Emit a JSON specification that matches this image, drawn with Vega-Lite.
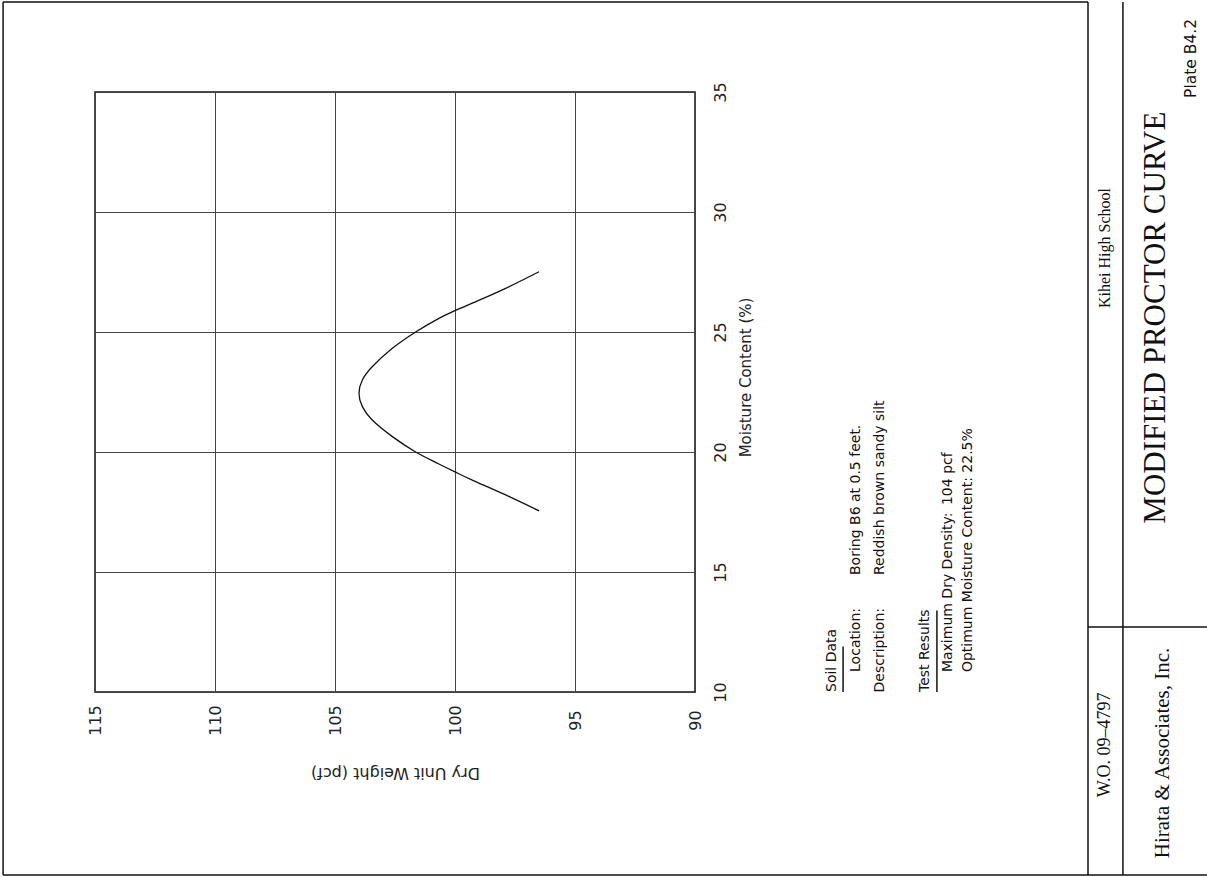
{
  "$schema": "https://vega.github.io/schema/vega-lite/v6.json",
  "width": 600,
  "height": 600,
  "autosize": {"type": "none"},
  "padding": {"left": 95, "top": 92, "right": 512, "bottom": 185},
  "background": "white",
  "config": {"view": {"stroke": "#111", "strokeWidth": 1.5}, "font": "DejaVu Sans"},
  "datasets": {
    "curve": [
      {"weight": 96.5, "moisture": 17.55},
      {"weight": 97.89, "moisture": 18.21},
      {"weight": 99.28, "moisture": 18.83},
      {"weight": 100.0, "moisture": 19.17},
      {"weight": 100.67, "moisture": 19.5},
      {"weight": 101.64, "moisture": 20.0},
      {"weight": 102.61, "moisture": 20.64},
      {"weight": 103.45, "moisture": 21.33},
      {"weight": 103.86, "moisture": 21.89},
      {"weight": 104.0, "moisture": 22.45},
      {"weight": 103.86, "moisture": 23.0},
      {"weight": 103.45, "moisture": 23.55},
      {"weight": 102.61, "moisture": 24.32},
      {"weight": 101.64, "moisture": 25.0},
      {"weight": 100.67, "moisture": 25.57},
      {"weight": 100.0, "moisture": 25.89},
      {"weight": 99.28, "moisture": 26.2},
      {"weight": 97.89, "moisture": 26.82},
      {"weight": 96.5, "moisture": 27.51}
    ],
    "frame": [
      {"w1": 118.83, "w2": 118.83, "m1": 38.75, "m2": 2.375},
      {"w1": 118.83, "w2": 68.67, "m1": 2.375, "m2": 2.375},
      {"w1": 118.83, "w2": 73.625, "m1": 38.75, "m2": 38.75},
      {"w1": 73.625, "w2": 73.625, "m1": 38.75, "m2": 2.375},
      {"w1": 72.17, "w2": 72.17, "m1": 38.75, "m2": 2.375},
      {"w1": 73.625, "w2": 68.67, "m1": 12.71, "m2": 12.71},
      {"w1": 83.83, "w2": 83.83, "m1": 10.0, "m2": 11.9},
      {"w1": 79.92, "w2": 79.92, "m1": 10.0, "m2": 13.4}
    ],
    "notesLeft": [
      {"w": 84.29, "m": 10.0, "label": "Soil Data"},
      {"w": 83.29, "m": 14.875, "label": "Boring B6 at 0.5 feet."},
      {"w": 82.29, "m": 14.875, "label": "Reddish brown sandy silt"},
      {"w": 80.42, "m": 10.0, "label": "Test Results"},
      {"w": 79.46, "m": 10.83, "label": "Maximum Dry Density:"},
      {"w": 79.46, "m": 17.79, "label": "104 pcf"},
      {"w": 78.625, "m": 10.83, "label": "Optimum Moisture Content: 22.5%"}
    ],
    "notesRight": [
      {"w": 83.29, "m": 13.5, "label": "Location:"},
      {"w": 82.29, "m": 13.5, "label": "Description:"}
    ],
    "blockSmall": [
      {"w": 72.92, "m": 28.5, "label": "Kihei High School"}
    ],
    "blockMid": [
      {"w": 72.92, "m": 7.8, "label": "W.O.  09–4797"}
    ],
    "blockFirm": [
      {"w": 70.5, "m": 7.46, "label": "Hirata & Associates, Inc."}
    ],
    "blockTitle": [
      {"w": 70.79, "m": 25.6, "label": "MODIFIED PROCTOR CURVE"}
    ],
    "plate": [
      {"w": 69.33, "m": 36.4, "label": "Plate B4.2"}
    ]
  },
  "layer": [
    {
      "data": {"name": "curve"},
      "mark": {"type": "line", "color": "#111", "strokeWidth": 1.3, "interpolate": "cardinal"},
      "encoding": {
        "x": {
          "field": "weight", "type": "quantitative", "title": "Dry Unit Weight (pcf)",
          "scale": {"domain": [90, 115], "reverse": true, "nice": false, "zero": false},
          "axis": {
            "orient": "bottom", "values": [90, 95, 100, 105, 110, 115],
            "grid": true, "gridColor": "#444", "gridWidth": 1, "domain": false,
            "ticks": false, "tickSize": 0,
            "labelAngle": -90, "labelAlign": "center", "labelBaseline": "middle",
            "labelPadding": 28, "labelFontSize": 16, "labelFont": "DejaVu Sans", "labelColor": "#222",
            "labelFlush": false, "labelOverlap": false,
            "titleAngle": 180, "titleFontSize": 16, "titleFontWeight": "normal", "titleFont": "DejaVu Sans",
            "titleColor": "#222", "titleX": 300, "titleY": 80, "titleAlign": "center", "titleBaseline": "middle"
          }
        },
        "y": {
          "field": "moisture", "type": "quantitative", "title": "Moisture Content (%)",
          "scale": {"domain": [10, 35], "nice": false, "zero": false},
          "axis": {
            "orient": "right", "values": [10, 15, 20, 25, 30, 35],
            "grid": true, "gridColor": "#444", "gridWidth": 1, "domain": false,
            "ticks": false, "tickSize": 0,
            "labelAngle": -90, "labelAlign": "center", "labelBaseline": "middle",
            "labelPadding": 25, "labelFontSize": 16, "labelFont": "DejaVu Sans", "labelColor": "#222",
            "labelFlush": false, "labelOverlap": false,
            "titleAngle": 270, "titleFontSize": 15, "titleFontWeight": "normal", "titleFont": "DejaVu Sans",
            "titleColor": "#222", "titleX": 50, "titleY": 285, "titleAlign": "center", "titleBaseline": "middle"
          }
        },
        "order": {"field": "moisture", "type": "quantitative"}
      }
    },
    {
      "data": {"name": "frame"},
      "mark": {"type": "rule", "color": "#111", "strokeWidth": 1.5},
      "encoding": {
        "x": {"field": "w1", "type": "quantitative", "title": "Dry Unit Weight (pcf)", "scale": {"domain": [90, 115], "reverse": true, "nice": false, "zero": false}},
        "x2": {"field": "w2"},
        "y": {"field": "m1", "type": "quantitative", "title": "Moisture Content (%)", "scale": {"domain": [10, 35], "nice": false, "zero": false}},
        "y2": {"field": "m2"}
      }
    },
    {
      "data": {"name": "notesLeft"},
      "mark": {"type": "text", "angle": -90, "align": "left", "baseline": "middle", "font": "DejaVu Sans", "fontSize": 14, "color": "#111"},
      "encoding": {
        "x": {"field": "w", "type": "quantitative", "title": "Dry Unit Weight (pcf)", "scale": {"domain": [90, 115], "reverse": true, "nice": false, "zero": false}},
        "y": {"field": "m", "type": "quantitative", "title": "Moisture Content (%)", "scale": {"domain": [10, 35], "nice": false, "zero": false}},
        "text": {"field": "label"}
      }
    },
    {
      "data": {"name": "notesRight"},
      "mark": {"type": "text", "angle": -90, "align": "right", "baseline": "middle", "font": "DejaVu Sans", "fontSize": 14, "color": "#111"},
      "encoding": {
        "x": {"field": "w", "type": "quantitative", "title": "Dry Unit Weight (pcf)", "scale": {"domain": [90, 115], "reverse": true, "nice": false, "zero": false}},
        "y": {"field": "m", "type": "quantitative", "title": "Moisture Content (%)", "scale": {"domain": [10, 35], "nice": false, "zero": false}},
        "text": {"field": "label"}
      }
    },
    {
      "data": {"name": "blockSmall"},
      "mark": {"type": "text", "angle": -90, "align": "center", "baseline": "middle", "font": "Liberation Serif", "fontSize": 16, "color": "#111"},
      "encoding": {
        "x": {"field": "w", "type": "quantitative", "title": "Dry Unit Weight (pcf)", "scale": {"domain": [90, 115], "reverse": true, "nice": false, "zero": false}},
        "y": {"field": "m", "type": "quantitative", "title": "Moisture Content (%)", "scale": {"domain": [10, 35], "nice": false, "zero": false}},
        "text": {"field": "label"}
      }
    },
    {
      "data": {"name": "blockMid"},
      "mark": {"type": "text", "angle": -90, "align": "center", "baseline": "middle", "font": "Liberation Serif", "fontSize": 18, "color": "#111"},
      "encoding": {
        "x": {"field": "w", "type": "quantitative", "title": "Dry Unit Weight (pcf)", "scale": {"domain": [90, 115], "reverse": true, "nice": false, "zero": false}},
        "y": {"field": "m", "type": "quantitative", "title": "Moisture Content (%)", "scale": {"domain": [10, 35], "nice": false, "zero": false}},
        "text": {"field": "label"}
      }
    },
    {
      "data": {"name": "blockFirm"},
      "mark": {"type": "text", "angle": -90, "align": "center", "baseline": "middle", "font": "Liberation Serif", "fontSize": 21, "color": "#111"},
      "encoding": {
        "x": {"field": "w", "type": "quantitative", "title": "Dry Unit Weight (pcf)", "scale": {"domain": [90, 115], "reverse": true, "nice": false, "zero": false}},
        "y": {"field": "m", "type": "quantitative", "title": "Moisture Content (%)", "scale": {"domain": [10, 35], "nice": false, "zero": false}},
        "text": {"field": "label"}
      }
    },
    {
      "data": {"name": "blockTitle"},
      "mark": {"type": "text", "angle": -90, "align": "center", "baseline": "middle", "font": "Liberation Serif", "fontSize": 31, "color": "#111"},
      "encoding": {
        "x": {"field": "w", "type": "quantitative", "title": "Dry Unit Weight (pcf)", "scale": {"domain": [90, 115], "reverse": true, "nice": false, "zero": false}},
        "y": {"field": "m", "type": "quantitative", "title": "Moisture Content (%)", "scale": {"domain": [10, 35], "nice": false, "zero": false}},
        "text": {"field": "label"}
      }
    },
    {
      "data": {"name": "plate"},
      "mark": {"type": "text", "angle": -90, "align": "center", "baseline": "middle", "font": "DejaVu Sans", "fontSize": 15.5, "color": "#111"},
      "encoding": {
        "x": {"field": "w", "type": "quantitative", "title": "Dry Unit Weight (pcf)", "scale": {"domain": [90, 115], "reverse": true, "nice": false, "zero": false}},
        "y": {"field": "m", "type": "quantitative", "title": "Moisture Content (%)", "scale": {"domain": [10, 35], "nice": false, "zero": false}},
        "text": {"field": "label"}
      }
    }
  ]
}
